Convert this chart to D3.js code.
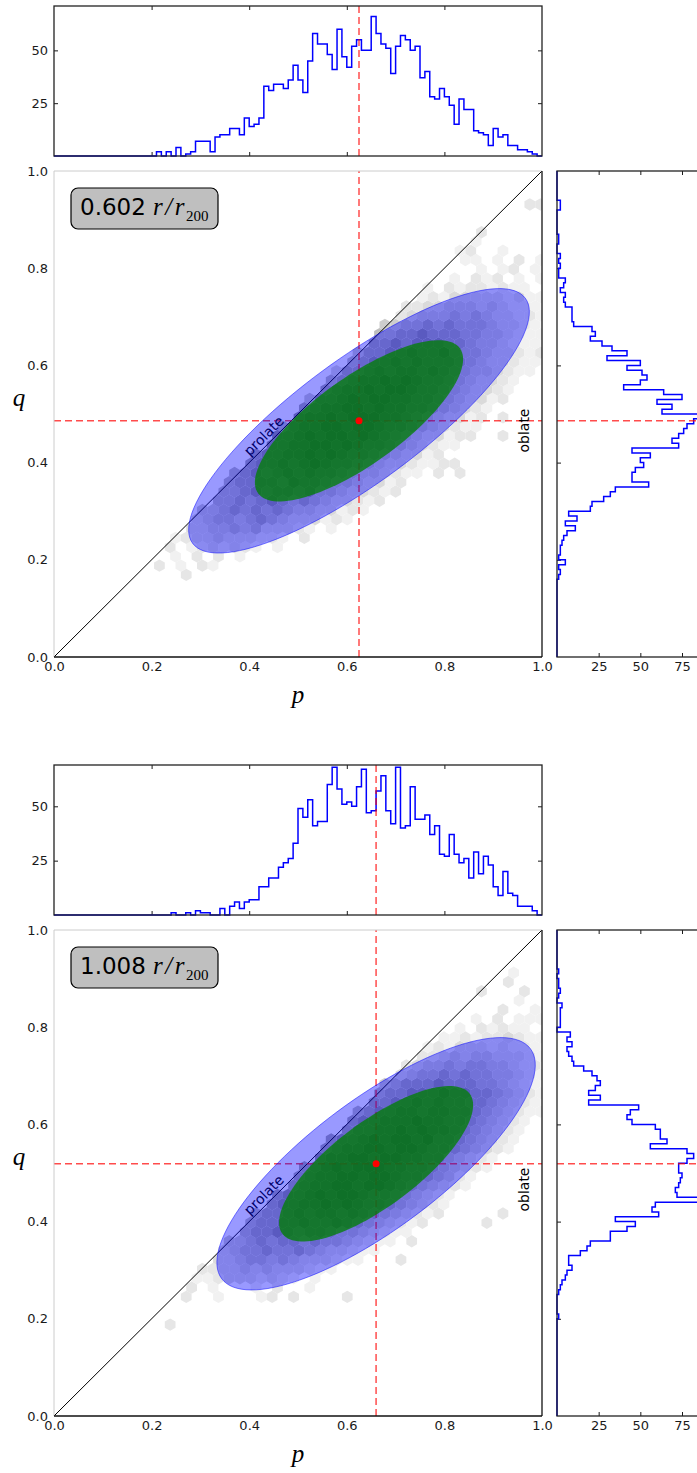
<!DOCTYPE html>
<html>
<head>
<meta charset="utf-8">
<script src="https://cdn.jsdelivr.net/npm/d3@7"></script>
<style>
  body { margin: 0; background: #fff; }
  svg { display: block; }
</style>
</head>
<body>
<svg id="chart" width="697" height="1473"></svg>
<script>
// ---------- data ----------
const radiusLabels = ["0.602", "1.008"];
const medians = [[0.625, 0.486], [0.660, 0.519]];          // [p, q]
const blueEllipses = [[0.424, 0.127, 36.5], [0.395, 0.1335, 36.8]];   // a, b, angle (deg)
const greenEllipses = [[0.255, 0.0895, 35.8], [0.240, 0.0869, 36.9]];
const topHistMax = [71, 69];

const binWidth = 0.01;
const pStarts = [0.21, 0.24];
const pCounts1 = [2,0,2,0,4,0,1,2,7,7,7,2,9,10,10,13,13,10,18,14,15,18,33,31,34,34,32,36,43,36,
  30,45,58,53,53,48,41,60,47,42,52,55,50,50,66,58,53,51,39,52,57,55,50,52,37,40,28,27,32,28,
  24,15,27,22,22,12,11,10,5,13,9,10,5,5,3,3,2,1,0];
const pCounts2 = [1,0,0,1,0,2,1,1,0,0,3,0,4,6,3,6,7,7,13,13,17,17,22,24,26,33,49,45,53,41,
  43,43,60,68,58,51,52,50,59,67,47,48,57,64,48,42,68,40,41,59,44,44,46,37,41,28,27,37,28,24,
  26,17,29,19,27,23,13,9,20,10,9,4,4,4,2];
const qStarts = [0.16, 0.20];
const qCounts1 = [1,2,1,5,1,2,2,3,4,6,11,5,12,7,20,21,28,32,35,55,45,45,47,52,50,56,45,73,69,73,
  76,78,82,90,63,69,60,75,64,40,50,54,51,42,50,30,42,33,27,20,23,21,10,9,9,9,5,4,5,2,
  4,5,1,1,2,1,2,0,0,1,1,0,0,0,0,0,2,2];
const qCounts2 = [1,0,0,0,0,1,2,3,5,6,9,7,7,14,18,20,32,32,42,47,35,61,57,59,86,72,71,73,74,75,
  73,73,78,82,78,56,66,62,62,59,45,42,44,49,19,26,19,23,26,24,21,16,10,9,7,6,9,6,8,0,
  2,2,2,2,3,0,1,2,1,1,0,1];

// hexbin cells: [row, first column, density level per column (0 = empty)]
const hexRows1 = [
  [1,5,"2"],[2,3,"201021"],[3,4,"1020201"],[4,4,"20123232101"],[5,4,"12334333221020"],
  [6,6,"33445453332101"],[7,6,"345545654333121"],[8,7,"4456565654433121"],
  [9,8,"5565676565433212"],[10,9,"55676776755433212"],[11,9,"56677687765543312"],
  [12,10,"5676787877654432110202"],[13,11,"67787898776543321122"],[14,12,"677889898776543312"],
  [15,13,"778899898776543211"],[16,14,"7789899898765433122002"],[17,14,"5788998998776543211"],
  [18,16,"78898999887654331202"],[19,16,"678899898877654321"],[20,17,"4778989988776543312"],
  [21,18,"678898998776543321"],[22,19,"567889898776543321"],[23,19,"3667878878765443211"],
  [24,21,"567787877765433211"],[25,21,"466778778655433212"],[26,23,"6676777665443211"],
  [27,23,"5566766655443211"],[28,24,"445565655543321"],[29,25,"23444545433221"],
  [30,26,"2233444343221"],[31,27,"121333332311"],[32,28,"1021221211"],[33,30,"102120101"],
  [34,33,"101201"],[35,31,"11010201"],[36,31,"12001"],[37,32,"1"],[38,33,"2"],[41,37,"22"]
];
const hexRows2 = [
  [2,4,"2"],[5,5,"2001000120200002"],[6,6,"201000102001"],[7,6,"1123332321010"],
  [8,7,"22334343332110"],[9,8,"334554543332110002"],[10,9,"345565565433211"],
  [11,9,"445656656554321102"],[12,11,"5667767765543211"],[13,11,"56677877876543212000002"],
  [14,12,"566787887876543212000002"],[15,13,"67788989877654321"],[16,14,"67789899877654321"],
  [17,15,"67889989987654321"],[18,16,"67889989987765421"],[19,16,"678989998877654321"],
  [20,18,"78899899887754321"],[21,18,"678899899877654321"],[22,19,"677898998977654321"],
  [23,20,"67788989887654321"],[24,21,"67788898877654321"],[25,21,"567788788776543211"],
  [26,23,"6677878776654321"],[27,23,"5667778776654321"],[28,24,"456667666554321"],
  [29,25,"34556565544321"],[30,26,"2344545544322"],[31,27,"223434433321"],
  [32,28,"12133323221"],[33,29,"1121223211"],[34,31,"1021211"],[35,32,"1020111"],
  [36,35,"2001"],[37,36,"1"],[38,33,"20002"],[39,35,"2"],[40,36,"1"]
];

const axisTicks = [0, 0.2, 0.4, 0.6, 0.8, 1.0];
const innerTicks = [0.2, 0.4, 0.6, 0.8];
const topHistTicks = [25, 50];
const sideHistTicks = [25, 50, 75];

// ---------- layout ----------
const HEX_P0 = 0.15, HEX_Q0 = 0.15, HEX_W = 0.022, HEX_DY = HEX_W * Math.sqrt(3) / 2;
const greys = ["#f1f1f1","#e6e6e6","#dadada","#cdcdcd","#bebebe","#acacac","#979797","#818181","#6b6b6b"];
const FONT = "DejaVu Sans";
const SERIF = "Liberation Serif";
const redLine = { stroke: "red", opacity: 0.7, width: 1.5, dash: "7,4" };

const svg = d3.select("#chart");

function stepPoints(start, counts) {
  const pts = [[0, 0], [start, 0]];
  counts.forEach((c, k) => {
    pts.push([start + k * binWidth, c], [start + (k + 1) * binWidth, c]);
  });
  pts.push([start + counts.length * binWidth, 0], [1, 0]);
  return pts;
}

function styleAxis(g) {
  g.select(".domain").remove();
  g.attr("font-family", FONT).attr("font-size", 13).attr("color", "#1a1a1a");
  g.selectAll(".tick line").attr("stroke-width", 1);
}

function dashed(sel) {
  sel.attr("stroke", redLine.stroke).attr("stroke-opacity", redLine.opacity)
    .attr("stroke-width", redLine.width).attr("stroke-dasharray", redLine.dash);
}

function drawPanel(k, off) {
  const x = d3.scaleLinear().domain([0, 1]).range([54, 542]);
  const y = d3.scaleLinear().domain([0, 1]).range([657 + off, 171 + off]);
  const yTop = d3.scaleLinear().domain([0, topHistMax[k]]).range([156 + off, 6 + off]);
  const xSide = d3.scaleLinear().domain([0, 90]).range([557, 707]);
  const med = medians[k];
  const g = svg.append("g");

  // ----- top histogram of p -----
  const gt = g.append("g");
  gt.append("g").attr("transform", `translate(54,0)`)
    .call(d3.axisLeft(yTop).tickValues(topHistTicks).tickSize(-4).tickPadding(6))
    .call(styleAxis);
  gt.append("g").attr("transform", `translate(542,0)`)
    .call(d3.axisRight(yTop).tickValues(topHistTicks).tickSize(-4).tickFormat(""))
    .call(styleAxis);
  gt.append("g").attr("transform", `translate(0,${156 + off})`)
    .call(d3.axisBottom(x).tickValues(innerTicks).tickSize(-4).tickFormat(""))
    .call(styleAxis);
  gt.append("g").attr("transform", `translate(0,${6 + off})`)
    .call(d3.axisTop(x).tickValues(innerTicks).tickSize(-4).tickFormat(""))
    .call(styleAxis);
  gt.append("path")
    .datum(stepPoints(pStarts[k], k === 0 ? pCounts1 : pCounts2))
    .attr("fill", "none").attr("stroke", "blue").attr("stroke-width", 1.5)
    .attr("d", d3.line().x(d => x(d[0])).y(d => yTop(d[1])));
  gt.append("line")
    .attr("x1", x(med[0])).attr("x2", x(med[0]))
    .attr("y1", yTop.range()[0]).attr("y2", yTop.range()[1])
    .call(dashed);
  gt.append("rect")
    .attr("x", 54).attr("y", 6 + off).attr("width", 488).attr("height", 150)
    .attr("fill", "none").attr("stroke", "#222").attr("stroke-width", 1.3);

  // ----- side histogram of q -----
  const gs = g.append("g");
  gs.append("g").attr("transform", `translate(0,${657 + off})`)
    .call(d3.axisBottom(xSide).tickValues(sideHistTicks).tickSize(-4).tickPadding(5))
    .call(styleAxis);
  gs.append("g").attr("transform", `translate(0,${171 + off})`)
    .call(d3.axisTop(xSide).tickValues(sideHistTicks).tickSize(-4).tickFormat(""))
    .call(styleAxis);
  gs.append("g").attr("transform", `translate(557,0)`)
    .call(d3.axisLeft(y).tickValues(innerTicks).tickSize(-4).tickFormat(""))
    .call(styleAxis);
  gs.append("path")
    .datum(stepPoints(qStarts[k], k === 0 ? qCounts1 : qCounts2))
    .attr("fill", "none").attr("stroke", "blue").attr("stroke-width", 1.5)
    .attr("d", d3.line().x(d => xSide(d[1])).y(d => y(d[0])));
  gs.append("line")
    .attr("x1", 557).attr("x2", 707).attr("y1", y(med[1])).attr("y2", y(med[1]))
    .call(dashed);
  gs.append("rect")
    .attr("x", 557).attr("y", 171 + off).attr("width", 150).attr("height", 486)
    .attr("fill", "none").attr("stroke", "#222").attr("stroke-width", 1.3);

  // ----- main panel -----
  const clipId = "clip" + k;
  g.append("clipPath").attr("id", clipId).append("rect")
    .attr("x", 54).attr("y", 171 + off).attr("width", 488).attr("height", 486);
  const gm = g.append("g").attr("clip-path", `url(#${clipId})`);

  const cells = [];
  (k === 0 ? hexRows1 : hexRows2).forEach(([row, col0, s]) => {
    s.split("").forEach((ch, m) => {
      const level = +ch;
      if (level > 0) {
        cells.push({
          p: HEX_P0 + (col0 + m) * HEX_W + (row % 2) * HEX_W / 2,
          q: HEX_Q0 + row * HEX_DY,
          level
        });
      }
    });
  });
  const r = HEX_W / Math.sqrt(3);
  const hexPath = d => "M" + d3.range(6).map(j => {
    const a = Math.PI / 180 * (30 + 60 * j);
    return [x(d.p + r * Math.cos(a)), y(d.q + r * Math.sin(a))];
  }).join("L") + "Z";
  gm.selectAll(".hex").data(cells).join("path")
    .attr("class", "hex")
    .attr("d", hexPath)
    .attr("fill", d => greys[d.level - 1]);

  // diagonal p = q
  gm.append("line")
    .attr("x1", x(0)).attr("y1", y(0)).attr("x2", x(1)).attr("y2", y(1))
    .attr("stroke", "#000").attr("stroke-width", 1);

  // median lines (under the ellipses)
  gm.append("line")
    .attr("x1", x(med[0])).attr("x2", x(med[0])).attr("y1", y(0)).attr("y2", y(1))
    .call(dashed);
  gm.append("line")
    .attr("x1", x(0)).attr("x2", x(1)).attr("y1", y(med[1])).attr("y2", y(med[1]))
    .call(dashed);

  // shape annotations
  gm.append("text")
    .attr("transform", `translate(${x(0.43)},${y(0.455)}) rotate(-45)`)
    .attr("text-anchor", "middle").attr("dy", "0.35em")
    .attr("font-family", FONT).attr("font-size", 14).attr("fill", "#000")
    .text("prolate");
  gm.append("text")
    .attr("transform", `translate(${x(0.963)},${y(0.466)}) rotate(-90)`)
    .attr("text-anchor", "middle").attr("dy", "0.35em")
    .attr("font-family", FONT).attr("font-size", 14).attr("fill", "#000")
    .text("oblate");

  // ellipses
  const ellipse = e => {
    const [a, b, deg] = e;
    const th = deg * Math.PI / 180;
    return d3.range(0, 360, 3).map(t => {
      const u = t * Math.PI / 180;
      return [
        med[0] + a * Math.cos(u) * Math.cos(th) - b * Math.sin(u) * Math.sin(th),
        med[1] + a * Math.cos(u) * Math.sin(th) + b * Math.sin(u) * Math.cos(th)
      ];
    });
  };
  const shape = d3.line().x(d => x(d[0])).y(d => y(d[1])).curve(d3.curveLinearClosed);
  gm.append("path").datum(ellipse(blueEllipses[k])).attr("d", shape)
    .attr("fill", "blue").attr("fill-opacity", 0.4)
    .attr("stroke", "blue").attr("stroke-opacity", 0.5).attr("stroke-width", 1);
  gm.append("path").datum(ellipse(greenEllipses[k])).attr("d", shape)
    .attr("fill", "green").attr("fill-opacity", 0.76);

  // median point
  gm.append("circle").attr("cx", x(med[0])).attr("cy", y(med[1])).attr("r", 3.5).attr("fill", "red");

  // spines: light left/top, dark bottom/right
  g.append("line").attr("x1", 54).attr("x2", 54).attr("y1", 171 + off).attr("y2", 657 + off)
    .attr("stroke", "#cccccc").attr("stroke-width", 1);
  g.append("line").attr("x1", 54).attr("x2", 542).attr("y1", 171 + off).attr("y2", 171 + off)
    .attr("stroke", "#cccccc").attr("stroke-width", 1);
  g.append("line").attr("x1", 54).attr("x2", 542).attr("y1", 657 + off).attr("y2", 657 + off)
    .attr("stroke", "#111").attr("stroke-width", 1.3);
  g.append("line").attr("x1", 542).attr("x2", 542).attr("y1", 171 + off).attr("y2", 657 + off)
    .attr("stroke", "#111").attr("stroke-width", 1.3);

  // main axes labels
  g.append("g").attr("transform", `translate(54,0)`)
    .call(d3.axisLeft(y).tickValues(axisTicks).tickSize(0).tickPadding(6).tickFormat(d3.format(".1f")))
    .call(styleAxis);
  g.append("g").attr("transform", `translate(0,${657 + off})`)
    .call(d3.axisBottom(x).tickValues(axisTicks).tickSize(0).tickPadding(5).tickFormat(d3.format(".1f")))
    .call(styleAxis);

  g.append("text").attr("x", 298).attr("y", 703 + off).attr("text-anchor", "middle")
    .attr("font-family", SERIF).attr("font-style", "italic").attr("font-size", 25).text("p");
  g.append("text").attr("x", 19).attr("y", 406 + off).attr("text-anchor", "middle")
    .attr("font-family", SERIF).attr("font-style", "italic").attr("font-size", 25).text("q");

  // radius label box
  const bx = x(0) + 17, by = y(1) + 17;
  g.append("rect").attr("x", bx).attr("y", by).attr("width", 147).attr("height", 41).attr("rx", 7)
    .attr("fill", "#bfbfbf").attr("stroke", "#000").attr("stroke-width", 1.2);
  g.append("text").attr("x", bx + 9).attr("y", by + 27)
    .attr("font-family", FONT).attr("font-size", 23).attr("fill", "#000").text(radiusLabels[k]);
  const mt = g.append("text").attr("x", bx + 82).attr("y", by + 27)
    .attr("font-family", SERIF).attr("fill", "#000");
  mt.append("tspan").attr("font-style", "italic").attr("font-size", 25)
    .attr("letter-spacing", 2.5).text("r/r");
  mt.append("tspan").attr("font-size", 15).attr("dy", 6).attr("dx", -1).text("200");
}

drawPanel(0, 0);
drawPanel(1, 759);
</script>
</body>
</html>
